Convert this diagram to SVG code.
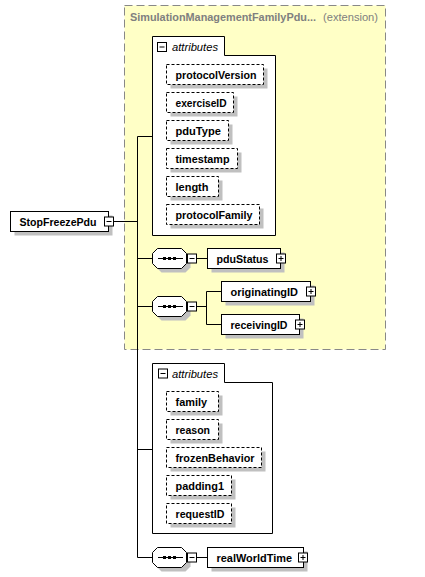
<svg xmlns="http://www.w3.org/2000/svg" width="425" height="577" viewBox="0 0 425 577">
<defs>
<style>
.t{font-family:"Liberation Sans",Arial,sans-serif;font-size:11px;font-weight:bold;fill:#000}
.ti{font-family:"Liberation Sans",Arial,sans-serif;font-size:11px;font-style:italic;fill:#000}
.g{font-family:"Liberation Sans",Arial,sans-serif;font-size:11px;fill:#808080}
.sh{fill:#c0c0c0;stroke:none}
.el{fill:#fff;stroke:#000;stroke-width:1}
.at{fill:#fff;stroke:#000;stroke-width:1;stroke-dasharray:3,2}
.grp{fill:#fff;stroke:#000;stroke-width:1}
.ln{fill:none;stroke:#000;stroke-width:1}
.ic{fill:#fff;stroke:#000;stroke-width:1}
</style>
<g id="minus"><rect class="ic" x="0" y="0" width="9" height="9"/><path class="ln" d="M2,4.5H7"/></g>
<g id="plus"><rect class="ic" x="0" y="0" width="9" height="9"/><path class="ln" d="M2,4.5H7M4.5,2V7"/></g>
<g id="seq">
<path class="sh" d="M9,4H33L38,9V19L33,24H9L4,19V9Z"/>
<path class="el" d="M5,0H29L34,5V15L29,20H5L0,15V5Z"/>
<path class="ln" d="M5.5,10H30.5"/>
<rect x="10.5" y="8.5" width="3" height="3" fill="#000"/>
<rect x="15.5" y="8.5" width="3" height="3" fill="#000"/>
<rect x="20.5" y="8.5" width="3" height="3" fill="#000"/>
</g>
</defs>
<rect width="425" height="577" fill="#fff"/>

<g id="extension">
<rect x="124.5" y="5.5" width="261" height="344" fill="#ffffc6" stroke="#888" stroke-dasharray="8,4"/>
<text class="g" x="130" y="21" font-weight="bold" textLength="186" lengthAdjust="spacingAndGlyphs">SimulationManagementFamilyPdu...</text>
<text class="g" x="323" y="21" textLength="55" lengthAdjust="spacingAndGlyphs">(extension)</text>
</g>

<g id="connectors">
<path class="ln" d="M113.5,221.5H137.5M137.5,136.5V557.5M137.5,136.5H152.5M137.5,258.5H152.5M137.5,306.5H152.5M137.5,449.5H152.5M137.5,557.5H152.5"/>
<path class="ln" d="M196.5,258.5H207.5"/>
<path class="ln" d="M196.5,306.5H206.5M206.5,291.5V324.5M206.5,291.5H221.5M206.5,324.5H221.5"/>
<path class="ln" d="M196.5,557.5H207.5"/>
</g>

<g id="StopFreezePdu">
<rect class="sh" x="14.5" y="215.5" width="98" height="20"/>
<rect class="el" x="10.5" y="211.5" width="98" height="20"/>
<text class="t" x="19.5" y="225.5" textLength="77" lengthAdjust="spacingAndGlyphs">StopFreezePdu</text>
<use href="#minus" x="104.5" y="217"/>
</g>

<g id="attributes1">
<path class="grp" d="M152.5,36.5H224.5V55.5H275.5V235.5H152.5Z"/>
<use href="#minus" x="157.5" y="42.5"/>
<text class="ti" x="172" y="51" textLength="46" lengthAdjust="spacingAndGlyphs">attributes</text>
</g>
<g id="protocolVersion">
<rect class="sh" x="170.5" y="68.5" width="97" height="20"/>
<rect class="at" x="166.5" y="64.5" width="97" height="20"/>
<text class="t" x="175.5" y="79" textLength="81" lengthAdjust="spacingAndGlyphs">protocolVersion</text>
</g>
<g id="exerciseID">
<rect class="sh" x="170.5" y="96.5" width="67" height="20"/>
<rect class="at" x="166.5" y="92.5" width="67" height="20"/>
<text class="t" x="175.5" y="107" textLength="51" lengthAdjust="spacingAndGlyphs">exerciseID</text>
</g>
<g id="pduType">
<rect class="sh" x="170.5" y="124.5" width="62" height="20"/>
<rect class="at" x="166.5" y="120.5" width="62" height="20"/>
<text class="t" x="175.5" y="135" textLength="45.5" lengthAdjust="spacingAndGlyphs">pduType</text>
</g>
<g id="timestamp">
<rect class="sh" x="170.5" y="152.5" width="71" height="20"/>
<rect class="at" x="166.5" y="148.5" width="71" height="20"/>
<text class="t" x="175.5" y="163" textLength="54" lengthAdjust="spacingAndGlyphs">timestamp</text>
</g>
<g id="length">
<rect class="sh" x="170.5" y="180.5" width="52" height="20"/>
<rect class="at" x="166.5" y="176.5" width="52" height="20"/>
<text class="t" x="175.5" y="191" textLength="33" lengthAdjust="spacingAndGlyphs">length</text>
</g>
<g id="protocolFamily">
<rect class="sh" x="170.5" y="208.5" width="93" height="20"/>
<rect class="at" x="166.5" y="204.5" width="93" height="20"/>
<text class="t" x="175.5" y="219" textLength="77" lengthAdjust="spacingAndGlyphs">protocolFamily</text>
</g>

<g id="sequence1">
<use href="#seq" x="152.5" y="248.5"/>
<use href="#minus" x="187.5" y="254"/>
</g>
<g id="pduStatus">
<rect class="sh" x="211.5" y="252.5" width="73" height="20"/>
<rect class="el" x="207.5" y="248.5" width="73" height="20"/>
<text class="t" x="216.5" y="263" textLength="52" lengthAdjust="spacingAndGlyphs">pduStatus</text>
<use href="#plus" x="276.5" y="254"/>
</g>

<g id="sequence2">
<use href="#seq" x="152.5" y="296.5"/>
<use href="#minus" x="187.5" y="302"/>
</g>
<g id="originatingID">
<rect class="sh" x="225.5" y="285.5" width="89" height="20"/>
<rect class="el" x="221.5" y="281.5" width="89" height="20"/>
<text class="t" x="230.5" y="296" textLength="67.5" lengthAdjust="spacingAndGlyphs">originatingID</text>
<use href="#plus" x="306.5" y="287"/>
</g>
<g id="receivingID">
<rect class="sh" x="225.5" y="318.5" width="78" height="20"/>
<rect class="el" x="221.5" y="314.5" width="78" height="20"/>
<text class="t" x="230.5" y="329" textLength="57" lengthAdjust="spacingAndGlyphs">receivingID</text>
<use href="#plus" x="295.5" y="320"/>
</g>

<g id="attributes2">
<path class="grp" d="M152.5,363.5H224.5V382.5H272.5V533.5H152.5Z"/>
<use href="#minus" x="158.5" y="369"/>
<text class="ti" x="172" y="378" textLength="46" lengthAdjust="spacingAndGlyphs">attributes</text>
</g>
<g id="family">
<rect class="sh" x="170.5" y="395.5" width="52" height="20"/>
<rect class="at" x="166.5" y="391.5" width="52" height="20"/>
<text class="t" x="175.5" y="406" textLength="31.5" lengthAdjust="spacingAndGlyphs">family</text>
</g>
<g id="reason">
<rect class="sh" x="170.5" y="423.5" width="52" height="20"/>
<rect class="at" x="166.5" y="419.5" width="52" height="20"/>
<text class="t" x="175.5" y="434" textLength="34.5" lengthAdjust="spacingAndGlyphs">reason</text>
</g>
<g id="frozenBehavior">
<rect class="sh" x="170.5" y="451.5" width="95" height="20"/>
<rect class="at" x="166.5" y="447.5" width="95" height="20"/>
<text class="t" x="175.5" y="462" textLength="79" lengthAdjust="spacingAndGlyphs">frozenBehavior</text>
</g>
<g id="padding1">
<rect class="sh" x="170.5" y="479.5" width="65" height="20"/>
<rect class="at" x="166.5" y="475.5" width="65" height="20"/>
<text class="t" x="175.5" y="490" textLength="48.5" lengthAdjust="spacingAndGlyphs">padding1</text>
</g>
<g id="requestID">
<rect class="sh" x="170.5" y="507.5" width="65" height="20"/>
<rect class="at" x="166.5" y="503.5" width="65" height="20"/>
<text class="t" x="175.5" y="518" textLength="49" lengthAdjust="spacingAndGlyphs">requestID</text>
</g>

<g id="sequence3">
<use href="#seq" x="152.5" y="547.5"/>
<use href="#minus" x="187.5" y="553"/>
</g>
<g id="realWorldTime">
<rect class="sh" x="211.5" y="551.5" width="96" height="20"/>
<rect class="el" x="207.5" y="547.5" width="96" height="20"/>
<text class="t" x="216.5" y="562" textLength="75.5" lengthAdjust="spacingAndGlyphs">realWorldTime</text>
<use href="#plus" x="298.5" y="553"/>
</g>
</svg>
